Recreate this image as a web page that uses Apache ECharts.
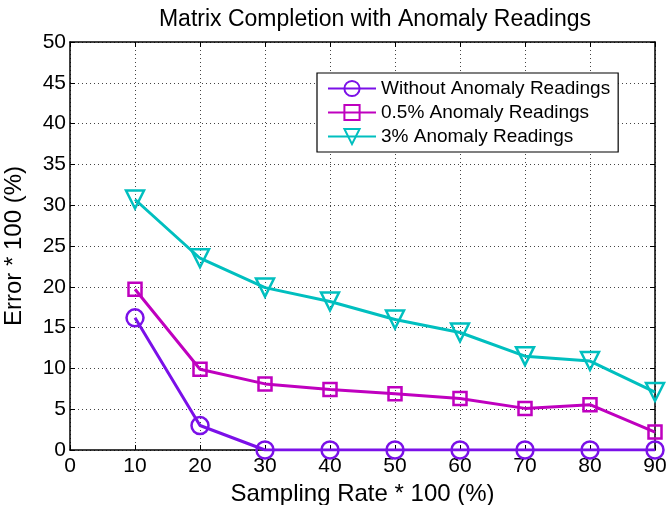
<!DOCTYPE html>
<html><head><meta charset="utf-8">
<script src="https://cdn.jsdelivr.net/npm/echarts@6/dist/echarts.min.js"></script>
<style>html,body{margin:0;padding:0;background:#fff}#c{width:667px;height:505px}</style>
</head><body><div id="c"></div>
<script>
const sampling = [10, 20, 30, 40, 50, 60, 70, 80, 90];
const withoutAnomaly = [16.2, 3.0, 0, 0, 0, 0, 0, 0, 0];
const anomaly05 = [19.7, 9.9, 8.1, 7.4, 6.9, 6.3, 5.1, 5.55, 2.2];
const anomaly3 = [30.7, 23.5, 19.9, 18.2, 16.0, 14.4, 11.5, 10.9, 7.1];
const seriesNames = ['Without Anomaly Readings', '0.5% Anomaly Readings', '3% Anomaly Readings'];
const colors = ['#7B10E8', '#BF00BF', '#00BFBF'];

const font = 'Liberation Sans, Arial, Helvetica, sans-serif';
const chart = echarts.init(document.getElementById('c'));
function pairs(v){ return sampling.map((x,i)=>[x, v[i]]); }
const gridLine = {show:true, lineStyle:{color:'#444', type:[1,3], width:1}};
const axLine = {show:true, onZero:false, lineStyle:{color:'#000', width:1.5}};
const tick = {show:true, inside:true, length:5, lineStyle:{color:'#000'}};
function mk(name, data, color, symbol, size, rot){
  return {name, type:'line', data:pairs(data), symbol, symbolSize:size, symbolRotate:rot||0,
    lineStyle:{color, width:3}, itemStyle:{color:'rgba(255,255,255,0)', borderColor:color, borderWidth:2.5},
    emphasis:{disabled:true}, animation:false, xAxisIndex:0, yAxisIndex:0};
}
chart.setOption({
  animation:false,
  title:{text:'Matrix Completion with Anomaly Readings', left:370, textAlign:'center', top:3,
    textStyle:{fontFamily:font, fontSize:23, fontWeight:'normal', color:'#000'}},
  grid:{left:70, right:12, top:42, bottom:55, show:false, containLabel:false, outerBoundsMode:'none'},
  legend:{orient:'vertical', left:317, top:73, padding:[6,8,6,10], itemGap:5,
    itemWidth:48, itemHeight:19, backgroundColor:'#fff', borderColor:'#000', borderWidth:1.2,
    textStyle:{fontFamily:font, fontSize:19, color:'#000'}, data:seriesNames},
  xAxis:[
    {type:'value', min:0, max:90, interval:10, position:'bottom', axisLine:axLine, axisTick:tick,
     splitLine:gridLine, axisLabel:{fontFamily:font, fontSize:21, color:'#000', margin:6},
     name:'Sampling Rate * 100 (%)', nameLocation:'middle', nameGap:30,
     nameTextStyle:{fontFamily:font, fontSize:24, color:'#000'}},
    {type:'value', min:0, max:90, interval:10, position:'top', axisLine:axLine, axisTick:tick,
     splitLine:{show:false}, axisLabel:{show:false}}
  ],
  yAxis:[
    {type:'value', min:0, max:50, interval:5, position:'left', axisLine:axLine, axisTick:tick,
     splitLine:gridLine, axisLabel:{fontFamily:font, fontSize:21, color:'#000', margin:4},
     name:'Error * 100 (%)', nameLocation:'middle', nameGap:44,
     nameTextStyle:{fontFamily:font, fontSize:24, color:'#000'}},
    {type:'value', min:0, max:50, interval:5, position:'right', axisLine:axLine, axisTick:tick,
     splitLine:{show:false}, axisLabel:{show:false}}
  ],
  series:[
    mk(seriesNames[0], withoutAnomaly, colors[0], 'circle', 17),
    mk(seriesNames[1], anomaly05, colors[1], 'rect', 13),
    mk(seriesNames[2], anomaly3, colors[2], 'triangle', 18, 180)
  ]
});
</script></body></html>
